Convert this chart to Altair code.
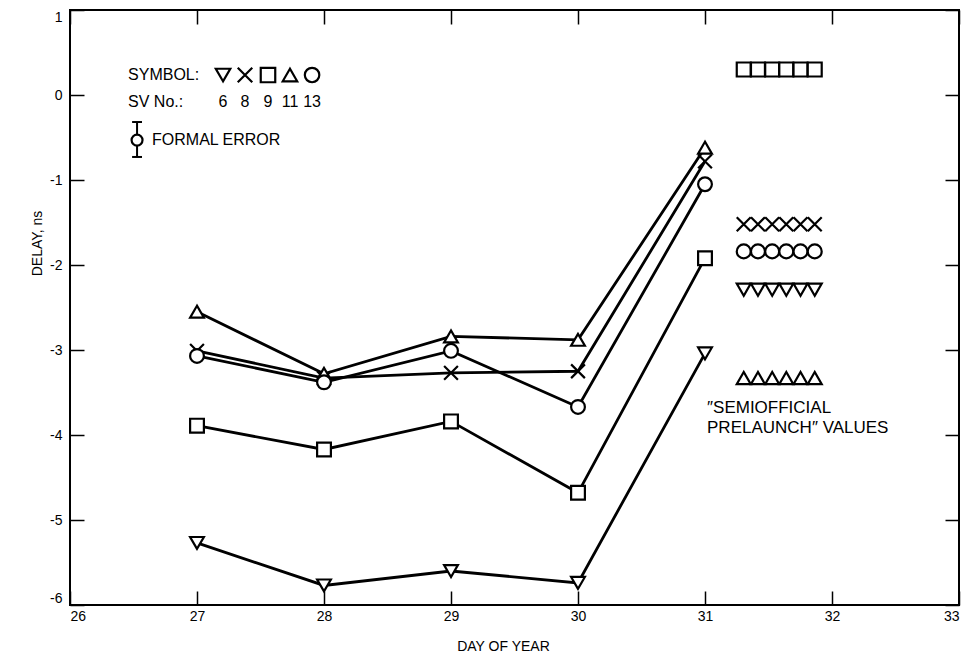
import altair as alt
import pandas as pd

FONT = "Liberation Sans"

# ---- data ----
days = [27, 28, 29, 30, 31]
sv_ids = ["6", "8", "9", "11", "13"]
delay_sv6 = [-5.27, -5.77, -5.60, -5.74, -3.04]
delay_sv8 = [-3.01, -3.33, -3.27, -3.25, -0.78]
delay_sv9 = [-3.89, -4.17, -3.84, -4.68, -1.92]
delay_sv11 = [-2.55, -3.28, -2.84, -2.88, -0.62]
delay_sv13 = [-3.07, -3.38, -3.01, -3.67, -1.05]

# "semiofficial prelaunch" values, drawn as rows of six symbols
prelaunch_x = [31.305, 31.417, 31.529, 31.640, 31.752, 31.864]
prelaunch_sv = ["6", "8", "9", "11", "13"]
prelaunch_delay = [-2.29, -1.52, 0.30, -3.33, -1.84]

# legend (annotation) positions in data units
legend_sym_x = [27.205, 27.378, 27.559, 27.732, 27.906]
legend_sym_y = 0.235
legend_num_y = -0.08
legend_text = ["SYMBOL:", "SV No.:", "FORMAL ERROR"]
legend_text_x = [26.457, 26.457, 26.646]
legend_text_y = [0.235, -0.08, -0.53]
err_x = 26.528
err_lo, err_hi, err_mid = -0.729, -0.318, -0.53
err_cap = 0.039

note_lines = ["\u2033SEMIOFFICIAL", "PRELAUNCH\u2033 VALUES"]
note_x = 31.016
note_y = [-3.68, -3.92]

x_ticks = [26, 27, 28, 29, 30, 31, 32, 33]
y_ticks = [-6, -5, -4, -3, -2, -1, 0, 1]

X_PATH = "M-1,-1L1,1M1,-1L-1,1"
shapes = ["triangle-down", X_PATH, "square", "triangle-up", "circle"]

# ---- tables ----
series = [delay_sv6, delay_sv8, delay_sv9, delay_sv11, delay_sv13]
obs = pd.DataFrame(
    [{"day": d, "delay": v, "sv": sv} for sv, vals in zip(sv_ids, series) for d, v in zip(days, vals)]
)
pre = pd.DataFrame(
    [{"day": px, "delay": y, "sv": sv} for sv, y in zip(prelaunch_sv, prelaunch_delay) for px in prelaunch_x]
)
leg_sym = pd.DataFrame({"day": legend_sym_x, "delay": [legend_sym_y] * 5, "sv": sv_ids})
leg_num = pd.DataFrame({"day": legend_sym_x, "delay": [legend_num_y] * 5, "sv": sv_ids})
leg_txt = pd.DataFrame({"day": legend_text_x, "delay": legend_text_y, "t": legend_text})
note = pd.DataFrame({"day": [note_x, note_x], "delay": note_y, "t": note_lines})
err_rules = pd.DataFrame({
    "x": [err_x, err_x - err_cap, err_x - err_cap],
    "x2": [err_x, err_x + err_cap, err_x + err_cap],
    "y": [err_lo, err_lo, err_hi],
    "y2": [err_hi, err_lo, err_hi],
})
err_pt = pd.DataFrame({"day": [err_x], "delay": [err_mid]})

xs = alt.Scale(domain=[26, 33], nice=False, zero=False)
ys = alt.Scale(domain=[-6, 1], nice=False, zero=False)
shape_scale = alt.Scale(domain=sv_ids, range=shapes)

common = dict(tickColor="black", tickWidth=1.5, domain=False, grid=False,
              labelFont=FONT, labelFontSize=14, labelColor="black",
              titleFont=FONT, titleFontSize=14, titleFontWeight="normal", titleColor="black")

ax_bottom = alt.Axis(orient="bottom", values=x_ticks, offset=-14, tickSize=14, labelPadding=4,
                     labelFlush=True, labelExpr="datum.value + ''", title="DAY OF YEAR",
                     titlePadding=16, titleX=433, **common)
ax_left = alt.Axis(orient="left", values=y_ticks, offset=-14, tickSize=14, labelPadding=8,
                   labelFlush=True, labelExpr="datum.value + ''", title="DELAY, ns",
                   titlePadding=5, titleY=233, **common)
ax_top = alt.Axis(orient="top", values=x_ticks, offset=-14, tickSize=14, labels=False,
                  title=None, **common)
ax_right = alt.Axis(orient="right", values=y_ticks, offset=-14, tickSize=14, labels=False,
                    title=None, **common)

lines = alt.Chart(obs).mark_line(color="black", strokeWidth=2.8).encode(
    x=alt.X("day:Q", scale=xs, axis=ax_bottom),
    y=alt.Y("delay:Q", scale=ys, axis=ax_left),
    detail="sv:N",
)

pts_style = dict(filled=True, fill="white", stroke="black", strokeWidth=2.2, opacity=1)

points = alt.Chart(obs).mark_point(size=190, **pts_style).encode(
    x=alt.X("day:Q", scale=xs, axis=ax_top),
    y=alt.Y("delay:Q", scale=ys, axis=ax_right),
    shape=alt.Shape("sv:N", scale=shape_scale, legend=None),
)

pre_pts = alt.Chart(pre).mark_point(size=195, **pts_style).encode(
    x=alt.X("day:Q", scale=xs, axis=None),
    y=alt.Y("delay:Q", scale=ys, axis=None),
    shape=alt.Shape("sv:N", scale=shape_scale, legend=None),
)

leg_pts = alt.Chart(leg_sym).mark_point(size=210, **pts_style).encode(
    x=alt.X("day:Q", scale=xs, axis=None),
    y=alt.Y("delay:Q", scale=ys, axis=None),
    shape=alt.Shape("sv:N", scale=shape_scale, legend=None),
)

leg_nums = alt.Chart(leg_num).mark_text(font=FONT, fontSize=16, color="black", align="center",
                                        baseline="middle").encode(
    x=alt.X("day:Q", scale=xs, axis=None),
    y=alt.Y("delay:Q", scale=ys, axis=None),
    text="sv:N",
)

leg_words = alt.Chart(leg_txt).mark_text(font=FONT, fontSize=16, color="black", align="left",
                                         baseline="middle").encode(
    x=alt.X("day:Q", scale=xs, axis=None),
    y=alt.Y("delay:Q", scale=ys, axis=None),
    text="t:N",
)

note_txt = alt.Chart(note).mark_text(font=FONT, fontSize=17, color="black", align="left",
                                     baseline="middle").encode(
    x=alt.X("day:Q", scale=xs, axis=None),
    y=alt.Y("delay:Q", scale=ys, axis=None),
    text="t:N",
)

err = alt.Chart(err_rules).mark_rule(color="black", strokeWidth=2).encode(
    x=alt.X("x:Q", scale=xs, axis=None),
    x2="x2:Q",
    y=alt.Y("y:Q", scale=ys, axis=None),
    y2="y2:Q",
)

err_circle = alt.Chart(err_pt).mark_point(size=120, shape="circle", **pts_style).encode(
    x=alt.X("day:Q", scale=xs, axis=None),
    y=alt.Y("delay:Q", scale=ys, axis=None),
)

chart = (
    alt.layer(lines, points, pre_pts, leg_pts, leg_nums, leg_words, note_txt, err, err_circle)
    .resolve_axis(x="independent", y="independent")
    .properties(
        width=889,
        height=595,
        autosize=alt.AutoSizeParams(type="none"),
        padding={"left": 70, "top": 10, "right": 2, "bottom": 58},
        background="white",
    )
    .configure_view(stroke="black", strokeWidth=2)
)

chart.save("out.html", embed_options={"renderer": "svg", "actions": False})
